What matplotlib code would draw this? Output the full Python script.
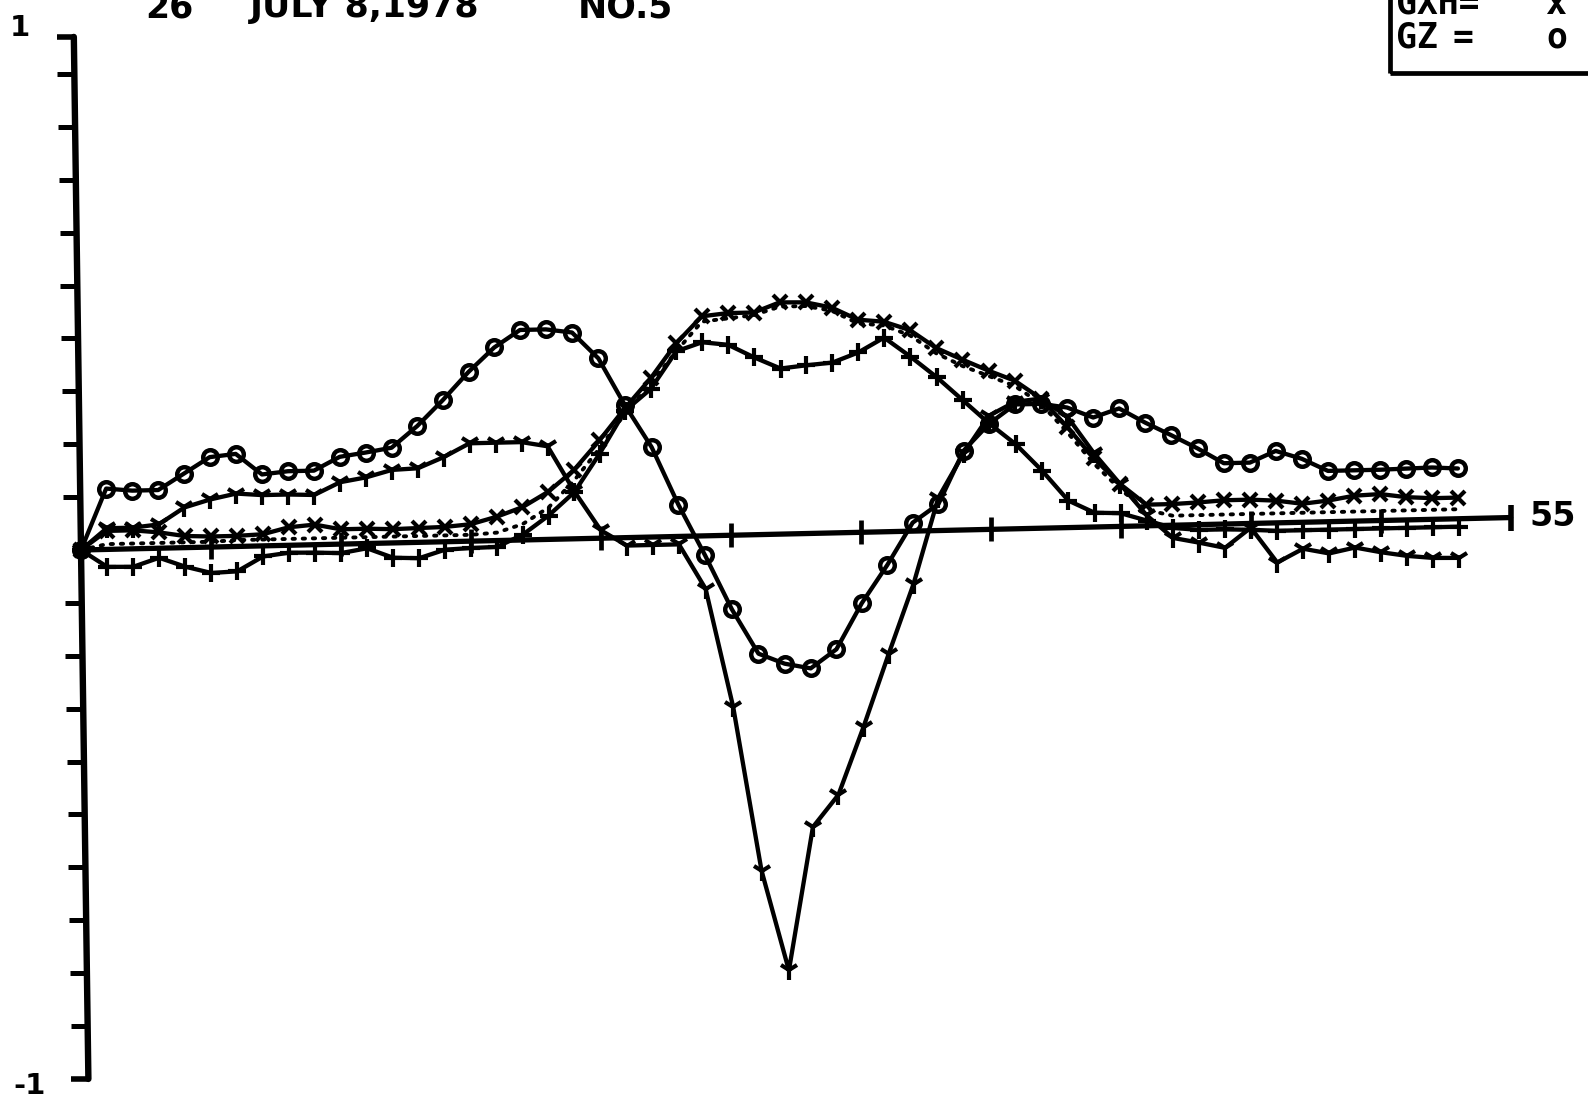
import numpy as np
import matplotlib
matplotlib.use("Agg")
import matplotlib.pyplot as plt
from matplotlib.transforms import Affine2D
from matplotlib.patches import Rectangle

# ---------------- data ----------------
idx = list(range(54))

gz = [0, .115, .11, .11, .14, .17, .175, .135, .14, .14,
      .165, .172, .18, .22, .268, .32, .365, .397, .397, .39,
      .34, .25, .17, .06, -.037, -.14, -.225, -.245, -.255, -.22,
      -.134, -.063, .016, .05, .15, .2, .235, .235, .227, .207,
      .223, .195, .17, .144, .115, .115, .136, .12, .096, .096,
      .096, .097, .098, .095]

gxh = [0, .035, .035, .03, .022, .02, .02, .022, .034, .038,
       .028, .028, .026, .027, .028, .032, .045, .062, .09, .13,
       .185, .245, .3, .365, .415, .42, .42, .438, .437, .426,
       .402, .397, .38, .345, .322, .3, .28, .245, .19, .13,
       .08, .04, .04, .042, .045, .045, .042, .035, .04, .048,
       .05, .043, .04, .04]

plus_s = [0, -.033, -.034, -.018, -.036, -.049, -.047, -.02, -.014, -.015,
          -.017, -.009, -.028, -.03, -.015, -.013, -.012, .01, .045, .088,
          .16, .24, .28, .35, .366, .36, .335, .313, .318, .322,
          .34, .367, .33, .29, .245, .2, .16, .109, .051, .027,
          .025, .01, -.005, -.01, -.01, -.012, -.015, -.015, -.015, -.015,
          -.015, -.015, -.015, -.015]

fork_s = [0, .04, .04, .045, .076, .09, .1, .096, .096, .094,
          .117, .125, .138, .14, .16, .185, .185, .185, .176, .09,
          .015, -.015, -.015, -.015, -.1, -.325, -.635, -.825, -.555, -.495,
          -.368, -.232, -.1, .062, .145, .215, .24, .245, .21, .14,
          .08, .02, -.024, -.034, -.045, -.008, -.075, -.05, -.06, -.05,
          -.06, -.068, -.073, -.074]

dotted_s = ([0] + [.01] * 5 + [.012] * 10 + [.015] +
            [.03, .06, .11, .17, .235, .29, .35, .405, .41, .415, .43, .43, .42,
             .395, .39, .37, .335, .31, .29, .27, .235, .18, .12, .07, .03] +
            [.018] * 12)

x_ticks = [5, 10, 15, 20, 25, 30, 35, 40, 45, 50]
x_end = 55
y_ticks = [-.9, -.8, -.7, -.6, -.5, -.4, -.3, -.2, -.1,
           .1, .2, .3, .4, .5, .6, .7, .8, .9]
y_top, y_bottom = 0.97, -1.0

title_parts = ["26", "JULY 8,1978", "NO.5"]

# ---------------- figure ----------------
W, H = 1588, 1101
fig = plt.figure(figsize=(W / 100, H / 100), dpi=100)
fig.patch.set_facecolor("white")
ax = fig.add_axes([0, 0, 1, 1])
ox, oy = 81.0, H - 550.0        # origin in pixels
sx, sy = 26.0, 529.0            # pixels per data unit
ax.set_xlim(-ox / sx, (W - ox) / sx)
ax.set_ylim(-oy / sy, (H - oy) / sy)
ax.axis("off")

# the scanned chart is slightly skewed: x-axis tilted ~1.3 deg, y-axis ~0.8 deg
a, b = np.radians(1.3), np.radians(0.8)
skew = np.array([[np.cos(a), -np.sin(b), 0.0],
                 [np.sin(a), np.cos(b), 0.0],
                 [0.0, 0.0, 1.0]])
tr = (ax.transData + Affine2D().translate(-ox, -oy) + Affine2D(skew)
      + Affine2D().translate(ox, oy))

K = dict(color="black", transform=tr, clip_on=False, solid_capstyle="round",
         solid_joinstyle="round")
M = dict(color="black", transform=tr, clip_on=False, ls="none")

# axes
ax.plot([0, 0], [y_bottom, y_top], lw=4.6, **K)
ax.plot([0, x_end], [0, 0], lw=3.8, **K)
ax.plot(np.zeros(len(y_ticks)), y_ticks, marker=0, ms=12, mew=3.6, **M)
ax.plot([0, 0], [y_top, y_bottom], marker=0, ms=12, mew=4.0, **M)
ax.plot(x_ticks, np.zeros(len(x_ticks)), marker="|", ms=17, mew=3.4, **M)
ax.plot([x_end], [0], marker="|", ms=19, mew=4.0, **M)

# series
ax.plot(idx, dotted_s, lw=2.8, ls=(0, (0.6, 2.0)), dash_capstyle="round",
        color="black", transform=tr, clip_on=False)
ax.plot(idx, plus_s, lw=3.1, marker="+", ms=13, mew=3.0, **K)
ax.plot(idx, fork_s, lw=3.1, marker="1", ms=15, mew=3.0, **K)
ax.plot(idx, gxh, lw=3.1, marker="x", ms=10, mew=3.0, **K)
ax.plot(idx, gz, lw=3.1, marker="o", ms=10.5, mew=3.2, mfc="none", **K)

# texts
bold = dict(fontfamily="DejaVu Sans", fontweight="bold", color="black")
def px(x, y):
    return x / W, 1 - y / H

fig.text(*px(20, 28), "1", fontsize=21, ha="center", va="center", **bold)
fig.text(*px(30, 1086), "-1", fontsize=21, ha="center", va="center", **bold)
fig.text(*px(1553, 517), "55", fontsize=24, ha="center", va="center", **bold)
fig.text(*px(145, 17), title_parts[0], fontsize=25, ha="left", va="baseline", **bold)
fig.text(*px(250, 17), title_parts[1], fontsize=25, ha="left", va="baseline", **bold)
fig.text(*px(578, 17), title_parts[2], fontsize=25, ha="left", va="baseline", **bold)

# legend box (partly cut at the top of the scan)
mono = dict(fontfamily="DejaVu Sans Mono", fontweight="bold", color="black",
            fontsize=25)
fig.text(*px(1396, 14), "GXH=", ha="left", va="baseline", **mono)
fig.text(*px(1555, 14), "x", ha="center", va="baseline", **mono)
fig.text(*px(1396, 48), "GZ", ha="left", va="baseline", **mono)
fig.text(*px(1463, 48), "=", ha="center", va="baseline", **mono)
fig.text(*px(1557, 48), "o", ha="center", va="baseline", **mono)
fig.patches.append(Rectangle(px(1390, 73), 250 / W, 120 / H, fill=False,
                             lw=3.4, edgecolor="black", transform=fig.transFigure))

fig.savefig("out.png", dpi=100, facecolor="white")
